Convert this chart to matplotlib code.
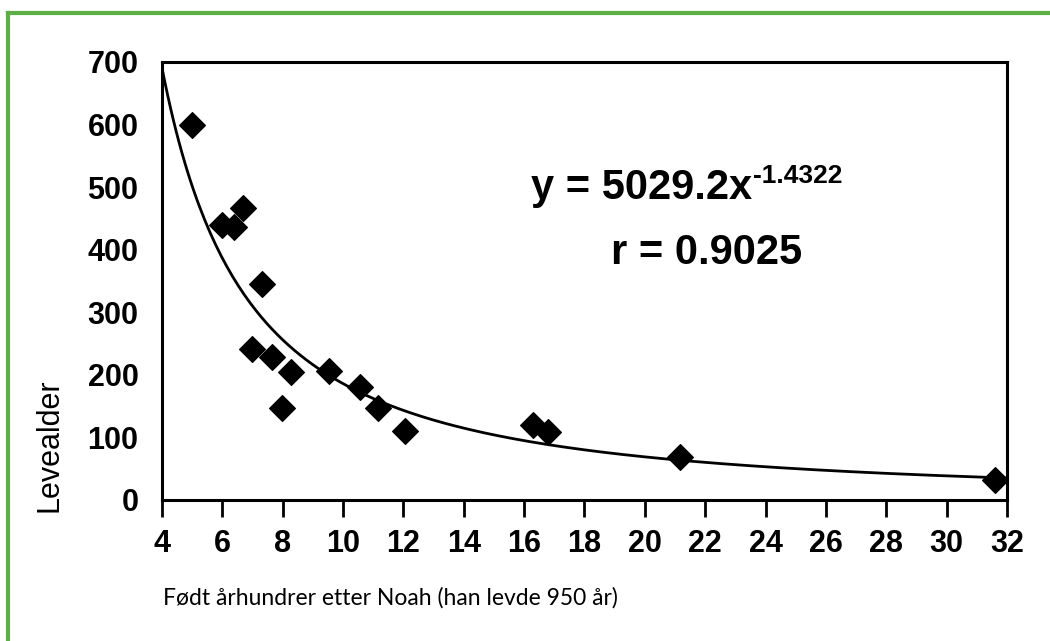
"""Levealder vs. født århundrer etter Noah, with power-law trendline."""

import matplotlib

matplotlib.use("Agg")
import matplotlib.pyplot as plt
import numpy as np
from matplotlib.lines import Line2D

# scatter points
centuries = [5.0, 6.0, 6.4, 6.7, 7.3, 6.97, 7.63, 8.26, 7.97, 9.55, 10.56, 11.17, 12.05, 16.3, 16.8, 21.16, 31.6]
lifespan = [600, 440, 436, 467, 345, 241, 229, 205, 147, 206, 180, 147, 110, 120, 109, 69, 32]

# fitted trendline y = A * x^B (from the chart's own equation)
fit_a = 5029.2
fit_b = -1.4322
fit_r = 0.9025

x_ticks = list(range(4, 33, 2))
y_ticks = list(range(0, 701, 100))

GREEN = "#5cb043"

fig = plt.figure(figsize=(10.5, 6.41), dpi=100)
ax = fig.add_axes([0.1543, 0.22, 0.959 - 0.1543, 0.9033 - 0.22])

xs = np.linspace(4, 32, 300)
ax.plot(xs, fit_a * xs ** fit_b, color="black", lw=2.0, zorder=3)
ax.plot(centuries, lifespan, "D", color="black", ms=13, mec="black", mew=0.8, zorder=4, clip_on=False)

ax.set_xlim(4, 32)
ax.set_ylim(0, 700)
ax.set_xticks(x_ticks)
ax.set_yticks(y_ticks)
for s in ax.spines.values():
    s.set_linewidth(2.2)
ax.tick_params(axis="x", direction="out", length=12, width=2, pad=9)
ax.tick_params(axis="y", length=0, pad=17)
for lab in ax.get_xticklabels() + ax.get_yticklabels():
    lab.set_fontfamily("Liberation Sans")
    lab.set_fontweight("bold")
    lab.set_fontsize(22)

# equation: normal text with a raised, smaller exponent
eq = ax.text(0.568, 0.712, f"y = {fit_a}x", transform=ax.transAxes, ha="center", va="center",
             fontsize=30, fontweight="bold", family="Liberation Sans")
ax.annotate(f"{fit_b}", xy=(1, 1), xycoords=eq, xytext=(0, 3), textcoords="offset points",
            ha="left", va="top", fontsize=19, fontweight="bold", family="Liberation Sans")
ax.text(0.644, 0.564, f"r = {fit_r}", transform=ax.transAxes, ha="center", va="center",
        fontsize=30, fontweight="bold", family="Liberation Sans")

fig.text(50 / 1050, 1 - 445 / 641, "Levealder", rotation=90, ha="center", va="center",
         fontsize=22, family="Liberation Sans")
fig.text(163 / 1050, 1 - 598 / 641, "Født århundrer etter Noah (han levde 950 år)", ha="left", va="center",
         fontsize=16.5, family="Lato")

# green frame: top and left edges only
fig.add_artist(Line2D([8 / 1050, 1.0], [1 - 13 / 641, 1 - 13 / 641], transform=fig.transFigure, color=GREEN, lw=3))
fig.add_artist(Line2D([8 / 1050, 8 / 1050], [0.0, 1 - 13 / 641], transform=fig.transFigure, color=GREEN, lw=3))

fig.savefig("out.png", dpi=100)
